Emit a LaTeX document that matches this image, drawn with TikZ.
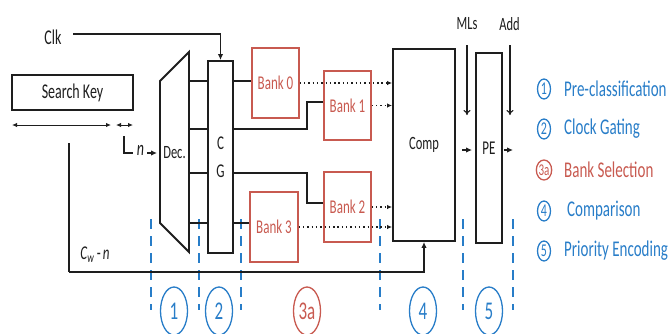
\documentclass[tikz,border=0pt]{standalone}
\usepackage{fontspec}
\usepackage{graphicx}
\setmainfont{Carlito}
\usetikzlibrary{arrows.meta,shapes.geometric}
\definecolor{myblue}{RGB}{40,125,200}
\definecolor{myred}{RGB}{200,90,80}
\definecolor{ink}{RGB}{30,30,30}
\newcommand{\vs}[1]{\scalebox{1}[1.5]{#1}}
\newcommand{\fsz}[1]{\fontsize{#1}{#1}\selectfont}
\begin{document}
\begin{tikzpicture}[x=1pt,y=-1pt,
  blk/.style={draw=ink, line width=1.9pt, inner sep=0pt, text=ink},
  rbox/.style={draw=myred, line width=1.5pt, inner sep=0pt, text=myred, font=\fsz{13}},
  lbl/.style={inner sep=0pt, text=ink},
  wire/.style={draw=ink, line width=1.6pt},
  arr/.style={wire, -{Latex[length=6pt,width=5.5pt]}},
  dotarr/.style={draw=ink, line width=1.4pt, dash pattern=on 1.4pt off 2.9pt, -{Latex[length=5pt,width=4.5pt]}},
  twoway/.style={draw=ink, line width=1pt, {Latex[length=5pt,width=4.5pt]}-{Latex[length=5pt,width=4.5pt]}},
  vin/.style={draw=ink, line width=1.1pt, -{To[length=5pt,width=7pt]}},
  phase/.style={draw=myblue, line width=1.2pt, dash pattern=on 10pt off 7pt},
  lc/.style={ellipse, draw=#1, text=#1, line width=1.3pt, minimum width=13pt, minimum height=20pt, inner sep=0pt, font=\fsz{12}},
  bc/.style={ellipse, draw=#1, text=#1, line width=1.3pt, minimum width=27pt, minimum height=48pt, inner sep=0pt, font=\fsz{17}},
  lt/.style={anchor=west, inner sep=0pt, text=#1, font=\fsz{15}}
]
\useasboundingbox (0,0) rectangle (672,333);

% phase separators
\foreach \x/\n in {151/p1,199/p2,241/p3,380/p4,463/p5,513/p6}{
  \coordinate (\n t) at (\x,219);
  \coordinate (\n b) at (\x,310);
  \draw[phase] (\n t) -- (\n b);
}

% boxes
\node[blk, minimum width=121pt, minimum height=35pt, font=\fsz{14}] (sk) at (72.5,92.5) {\vs{Search Key}};
\node[blk, minimum width=25pt, minimum height=192pt] (cg) at (220.5,157) {};
\node[lbl, font=\fsz{13}] (cgc) at (220.5,143) {\vs{C}};
\node[lbl, font=\fsz{13}] (cgg) at (220.5,171) {\vs{G}};
\node[rbox, minimum width=47pt, minimum height=70pt] (b0) at (275.5,83) {\vs{Bank 0}};
\node[rbox, minimum width=47pt, minimum height=69pt] (b1) at (347.5,105.5) {\vs{Bank 1}};
\node[rbox, minimum width=47pt, minimum height=70pt] (b2) at (347.5,207) {\vs{Bank 2}};
\node[rbox, minimum width=48pt, minimum height=70pt] (b3) at (274,227) {\vs{Bank 3}};
\node[blk, minimum width=62pt, minimum height=192pt, font=\fsz{12.5}] (comp) at (424,145) {\vs{Comp}};
\node[blk, minimum width=26pt, minimum height=190pt, font=\fsz{13}] (pe) at (489,148) {\vs{PE}};

% decoder
\coordinate (dtl) at (160,81);
\coordinate (dtr) at (189,52);
\coordinate (dbr) at (189,252);
\coordinate (dbl) at (160,223);
\draw[draw=ink, line width=1.9pt, line join=miter] (dtl) -- (dtr) -- (dbr) -- (dbl) -- cycle;
\node[lbl, font=\fsz{12.5}] (dec) at (174.5,153) {\vs{Dec.}};

% decoder to CG
\foreach \y/\n in {81/d1,129/d2,173/d3,223/d4}{
  \coordinate (\n) at (189,\y);
  \draw[wire] (\n) -- (cg.west |- \n);
}

% CG to banks
\coordinate (k1) at (307,102);
\coordinate (k2) at (307,203);
\draw[wire] (cg.east |- d1) -- (b0.west |- d1);
\draw[wire] (cg.east |- d2) -| (k1) -- (b1.west |- k1);
\draw[wire] (cg.east |- d3) -| (k2) -- (b2.west |- k2);
\draw[wire] (cg.east |- d4) -- (b3.west |- d4);

% banks to comp
\draw[dotarr] (b0.east) -- (comp.west |- b0.east);
\draw[dotarr] (b1.east) -- (comp.west |- b1.east);
\draw[dotarr] (b2.east) -- (comp.west |- b2.east);
\draw[dotarr] (b3.east) -- (comp.west |- b3.east);

% clock
\node[lbl, font=\fsz{14}] (clk) at (53,37) {\vs{Clk}};
\coordinate (clks) at (73,34);
\draw[arr] (clks) -| (cg.north);

% search key fields
\coordinate (a1) at (12,125);
\coordinate (a2) at (111,125);
\coordinate (a3) at (116,125);
\coordinate (a4) at (133,125);
\draw[twoway] (a1) -- (a2);
\draw[twoway] (a3) -- (a4);

% n bits to decoder
\coordinate (n1) at (124,136);
\coordinate (n2) at (133,153);
\draw[draw=ink, line width=1.1pt] (n1) |- (n2);
\node[lbl, font=\fsz{14}] (nl) at (140.5,150) {\vs{\textit{n}}};
\coordinate (n3) at (147,153);
\draw[arr] (n3) -- ([xshift=-3pt]dec.west -| dtl);

% Cw - n to comp
\coordinate (w1) at (69,143);
\coordinate (w2) at (69,272);
\draw[wire] (w1) -- (w2);
\draw[arr] (w2) -| (comp.south);
\node[lbl, font=\fsz{13}] (cw) at (95,255) {\vs{\textit{C}\textsubscript{\textit{w}}\,-\,\textit{n}}};

% MLs and Add
\node[lbl, font=\fsz{12.5}] (mls) at (467,24) {\vs{MLs}};
\node[lbl, font=\fsz{12.5}] (add) at (509.5,24) {\vs{Add}};
\coordinate (m1) at (467,45);
\coordinate (m2) at (467,115);
\coordinate (ad1) at (510,45);
\coordinate (ad2) at (510,115);
\draw[vin] (m1) -- (m2);
\draw[vin] (ad1) -- (ad2);

% comp -> PE -> out
\coordinate (cp) at (462,150);
\coordinate (po) at (513,150);
\draw[arr, shorten >=3pt] (cp) -- (pe.west |- cp);
\draw[arr] ([xshift=1pt]pe.east |- cp) -- (po);

% bottom phase labels
\node[bc=myblue] (s1) at (174,311) {\vs{1}};
\node[bc=myblue] (s2) at (219,311) {\vs{2}};
\node[bc=myred]  (s3) at (307,311) {\vs{3a}};
\node[bc=myblue] (s4) at (423,311) {\vs{4}};
\node[bc=myblue] (s5) at (489,311) {\vs{5}};

% legend
\node[lc=myblue] (l1) at (544,89) {\vs{1}};
\node[lc=myblue] (l2) at (544,129) {\vs{2}};
\node[lc=myred, font=\fsz{11}] (l3) at (544,170) {\vs{3a}};
\node[lc=myblue] (l4) at (544,211) {\vs{4}};
\node[lc=myblue] (l5) at (544,251) {\vs{5}};
\node[lt=myblue] (t1) at (564,89) {\vs{Pre-classification}};
\node[lt=myblue] (t2) at (564,129) {\vs{Clock Gating}};
\node[lt=myred]  (t3) at (564,170) {\vs{Bank Selection}};
\node[lt=myblue] (t4) at (567,211) {\vs{Comparison}};
\node[lt=myblue] (t5) at (564,251) {\vs{Priority Encoding}};
\end{tikzpicture}
\end{document}
